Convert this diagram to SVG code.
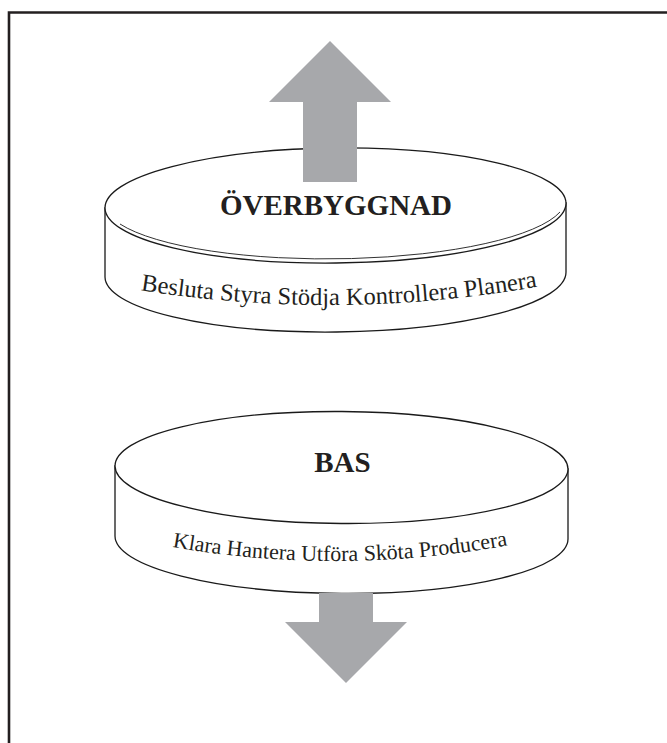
<svg xmlns="http://www.w3.org/2000/svg" width="667" height="743" viewBox="0 0 667 743">
<style>
.edge{fill:#fff;stroke:#1a1a1a;stroke-width:1.3}
.thin{fill:none;stroke:#1a1a1a;stroke-width:0.9}
.arrow{fill:#a7a8ab;stroke:none}
.title{font-family:"Liberation Serif","Times New Roman",serif;font-weight:bold;font-size:29px;fill:#231f20;text-anchor:middle}
.sub{font-family:"Liberation Serif","Times New Roman",serif;fill:#231f20;text-anchor:middle}
</style>
<defs>
<path id="arcTop" d="M115,286 Q339,326 563,282"/>
<path id="arcBot" d="M150,543 Q339,580 530,541"/>
</defs>
<g id="frame">
<path d="M9,743 V12.5 H667" fill="none" stroke="#231f20" stroke-width="2.6"/>
</g>
<g id="overbyggnad">
<path class="edge" d="M105,208 L105,277 A230.5,57.5 -0.6 0 0 566,272 L566,203 Z"/>
<ellipse class="edge" cx="335.5" cy="205.5" rx="230.5" ry="57.5" transform="rotate(-0.6 335.5 205.5)"/>
<path class="thin" d="M120,224 A230.5,57.5 -0.6 0 0 560,212"/>
<text class="title" x="336" y="215">ÖVERBYGGNAD</text>
<text class="sub" font-size="24.5"><textPath href="#arcTop" startOffset="50%">Besluta Styra Stödja Kontrollera Planera</textPath></text>
</g>
<g id="bas">
<path class="edge" d="M115,466 L115,536 A226.5,56 0.4 0 0 568,539 L568,469 Z"/>
<ellipse class="edge" cx="341.5" cy="467.5" rx="226.5" ry="56" transform="rotate(0.4 341.5 467.5)"/>
<text class="title" x="342.5" y="472">BAS</text>
<text class="sub" font-size="22"><textPath href="#arcBot" startOffset="50%">Klara Hantera Utföra Sköta Producera</textPath></text>
</g>
<g id="connectors">
<path id="arrow-up" class="arrow" d="M330,41 L391,102 L357,102 L357,182 L303,182 L303,102 L269,102 Z"/>
<path id="arrow-down" class="arrow" d="M319,593 L373,593 L373,622 L407,622 L346,683 L285,622 L319,622 Z"/>
</g>
</svg>
